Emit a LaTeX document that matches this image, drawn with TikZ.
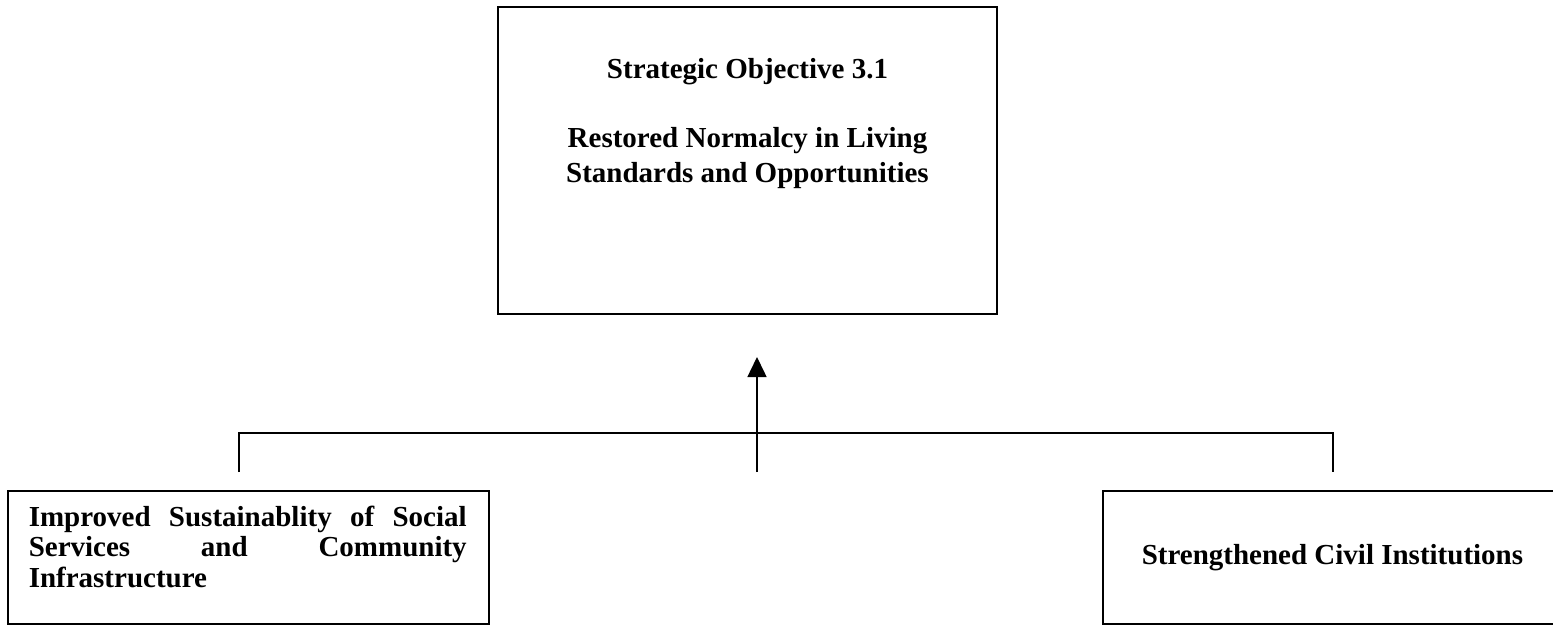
\documentclass[tikz,border=0pt]{standalone}
\usepackage{fontspec}
\setmainfont{Liberation Serif}
\usetikzlibrary{arrows.meta}

\begin{document}
\begin{tikzpicture}[x=1pt,y=-1pt,>={Triangle[length=20pt,width=19pt]},line width=1.5pt,
    box node/.style={rectangle,draw,line width=2pt,inner sep=0pt,font=\fontsize{29}{34.5}\selectfont\bfseries},
    label node/.style={inner sep=0pt,font=\fontsize{29}{34.5}\selectfont\bfseries}]

            \useasboundingbox (0,0) rectangle (1553,629);
            \clip (0,0) rectangle (1553,629);

            \node[box node, minimum width=499pt, minimum height=307pt] (goal) at (747.5,160.5) {};
            \node[label node, anchor=north, align=center] (goaltext) at ([yshift=-52pt]goal.north)
                {Strategic Objective 3.1\\[34.5pt]Restored Normalcy in Living\\Standards and Opportunities};

            \node[box node, minimum width=481pt, minimum height=133pt] (services) at (248.5,557.5) {};
            \node[label node, anchor=north west, text width=438pt, align=left, font=\fontsize{29}{30.5}\selectfont\bfseries] (servicestext)
                at ([shift={(21pt,-15pt)}]services.north west)
                {Improved\hfill Sustainablity\hfill of\hfill Social\\Services\hfill and\hfill Community\\Infrastructure};

            \node[box node, minimum width=459pt, minimum height=133pt] (civil) at (1332.5,557.5) {Strengthened Civil Institutions};

            \coordinate (fork) at (757,433);
            \coordinate (stem) at (757,472);
            \coordinate (tip) at (757,357);
            \coordinate (lefttick) at (239,472);
            \coordinate (righttick) at (1333,472);

            \draw[->] (stem) -- (tip);
            \draw (lefttick) |- (fork) -| (righttick);
        \end{tikzpicture}
\end{document}
